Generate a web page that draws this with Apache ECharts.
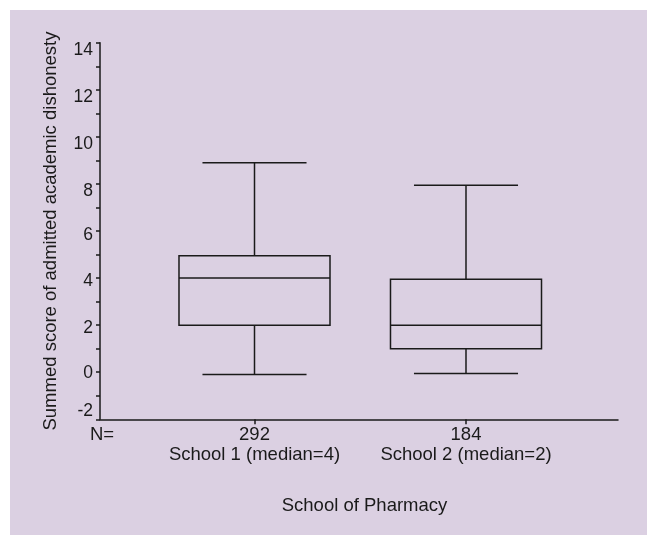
<!DOCTYPE html>
<html>
<head>
<meta charset="utf-8">
<script src="https://cdn.jsdelivr.net/npm/echarts@6/dist/echarts.min.js"></script>
<style>
  html, body { margin: 0; padding: 0; background: #ffffff; width: 647px; height: 535px; overflow: hidden; }
  #c { position: absolute; left: 10px; top: 10px; width: 637px; height: 525px; background: #dbd0e2; }
</style>
</head>
<body>
<div id="c"></div>
<script>
// ---- data ----
const categories = ['School 1 (median=4)', 'School 2 (median=2)'];
const counts = [292, 184];
// [min whisker, Q1, median, Q3, max whisker]
const school1 = [-0.1, 2, 4, 4.95, 8.9];
const school2 = [-0.05, 1, 2, 3.95, 7.95];
const yTicks = [-2, 0, 2, 4, 6, 8, 10, 12, 14];

const boxes = [school1, school2];
const seriesData = boxes.map((b, i) => [i + 1].concat(b));

const chart = echarts.init(document.getElementById('c'), null, { renderer: 'canvas' });
const FONT = 'Liberation Sans, Arial, Helvetica, sans-serif';
const INK = '#1a1a1a';
const BOX_HALF = 0.357;
const CAP_HALF = 0.246;
// vertical nudge (px) of each y tick label relative to its tick, as in the reference
const LABEL_NUDGE = { '14': 7, '12': 7, '10': 7, '8': 7, '6': 4, '4': 3, '2': 3, '0': 1, '-2': -8 };

const yRich = {};
Object.keys(LABEL_NUDGE).forEach((k, i) => {
  const d = LABEL_NUDGE[k];
  yRich['n' + i] = {
    fontFamily: FONT, fontSize: 17.5, color: INK,
    padding: d >= 0 ? [2 * d, 0, 0, 0] : [0, 0, -2 * d, 0]
  };
});
const nudgeKeys = Object.keys(LABEL_NUDGE);

function renderItem(params, api) {
  const x = api.value(0);
  const lo = api.value(1), q1 = api.value(2), med = api.value(3), q3 = api.value(4), hi = api.value(5);
  const pLoL = api.coord([x - CAP_HALF, lo]), pLoR = api.coord([x + CAP_HALF, lo]);
  const pHiL = api.coord([x - CAP_HALF, hi]), pHiR = api.coord([x + CAP_HALF, hi]);
  const bTL = api.coord([x - BOX_HALF, q3]), bBR = api.coord([x + BOX_HALF, q1]);
  const mL = api.coord([x - BOX_HALF, med]), mR = api.coord([x + BOX_HALF, med]);
  const c = api.coord([x, 0])[0];
  const style = { stroke: INK, lineWidth: 1.5, fill: null };
  return {
    type: 'group',
    children: [
      { type: 'line', shape: { x1: pLoL[0], y1: pLoL[1], x2: pLoR[0], y2: pLoR[1] }, style },
      { type: 'line', shape: { x1: pHiL[0], y1: pHiL[1], x2: pHiR[0], y2: pHiR[1] }, style },
      { type: 'line', shape: { x1: c, y1: pLoL[1], x2: c, y2: bBR[1] }, style },
      { type: 'line', shape: { x1: c, y1: pHiL[1], x2: c, y2: bTL[1] }, style },
      { type: 'rect', shape: { x: bTL[0], y: bTL[1], width: bBR[0] - bTL[0], height: bBR[1] - bTL[1] }, style },
      { type: 'line', shape: { x1: mL[0], y1: mL[1], x2: mR[0], y2: mR[1] }, style }
    ]
  };
}

chart.setOption({
  animation: false,
  backgroundColor: 'transparent',
  grid: { left: 90, right: 29, top: 32.8, bottom: 115.7, containLabel: false },
  xAxis: {
    type: 'value',
    min: 0.2695,
    max: 2.7187,
    name: 'School of Pharmacy',
    nameLocation: 'middle',
    nameGap: 77,
    nameTextStyle: { fontFamily: FONT, fontSize: 18.5, color: INK, padding: [0, 0, 0, 11] },
    axisLine: { onZero: false, lineStyle: { color: INK, width: 1.5 } },
    axisTick: { show: true, length: 5, lineStyle: { color: INK, width: 1.5 }, customValues: [1, 2] },
    axisLabel: {
      customValues: [1, 2],
      margin: 6,
      fontFamily: FONT, fontSize: 18.5, color: INK, lineHeight: 20,
      formatter: v => { const i = Math.round(v) - 1; return counts[i] + '\n' + categories[i]; }
    },
    splitLine: { show: false }
  },
  yAxis: {
    type: 'value',
    min: -2,
    max: 14,
    interval: 1,
    name: 'Summed score of admitted academic dishonesty',
    nameLocation: 'middle',
    nameGap: 40,
    nameRotate: 90,
    nameTextStyle: { fontFamily: FONT, fontSize: 18.5, color: INK },
    axisLine: { show: true, lineStyle: { color: INK, width: 1.5 } },
    axisTick: { show: true, length: 4, lineStyle: { color: INK, width: 1.5 } },
    axisLabel: {
      margin: 7,
      fontFamily: FONT, fontSize: 17.5, color: INK,
      rich: yRich,
      formatter: v => {
        if (yTicks.indexOf(v) < 0) return '';
        const k = nudgeKeys.indexOf(String(v));
        return '{n' + k + '|' + v + '}';
      }
    },
    splitLine: { show: false }
  },
  graphic: [
    { type: 'text', left: 80, top: 415, style: { text: 'N=', font: '18.5px ' + FONT, fill: INK } }
  ],
  series: [{
    type: 'custom',
    renderItem: renderItem,
    encode: { x: 0, y: [1, 2, 3, 4, 5] },
    data: seriesData,
    clip: false
  }]
});
</script>
</body>
</html>
